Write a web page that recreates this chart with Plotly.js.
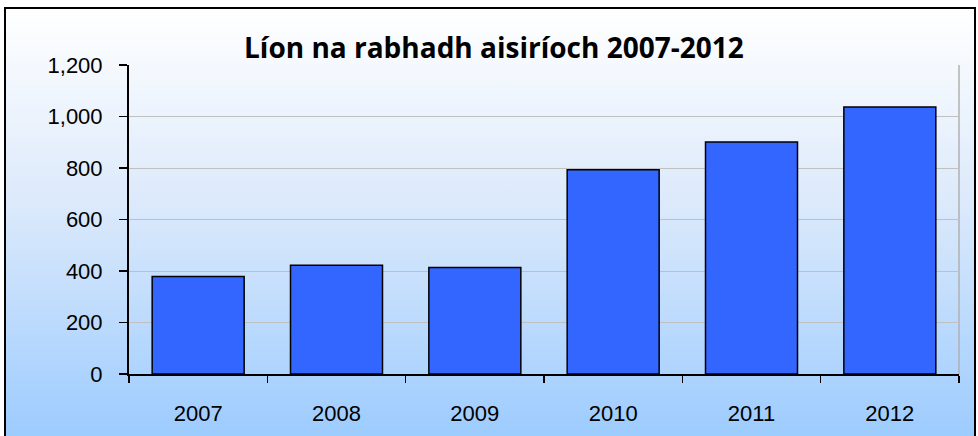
<!DOCTYPE html>
<html>
<head>
<meta charset="utf-8">
<script src="https://cdn.plot.ly/plotly-3.0.1.min.js"></script>
<style>
  html, body { margin: 0; padding: 0; background: #ffffff; }
  #wrap { position: relative; width: 978px; height: 436px; overflow: hidden; background: #ffffff; }
  #bg { position: absolute; left: 4px; top: 7px; width: 968px; height: 440px;
        border: 2px solid #000000;
        background: linear-gradient(to bottom, #ffffff 0%, #dbe9fb 45%, #99caff 100%); }
  #chart { position: absolute; left: 0; top: 0; width: 978px; height: 436px; }
</style>
</head>
<body>
<div id="wrap">
  <div id="bg"></div>
  <div id="chart"></div>
</div>
<script>
const years = ["2007", "2008", "2009", "2010", "2011", "2012"];
const warnings = [379, 422, 414, 793, 901, 1037];
const yTicks = [0, 200, 400, 600, 800, 1000, 1200];
const chartTitle = "Líon na rabhadh aisiríoch 2007-2012";

const trace = {
  type: "bar",
  x: years,
  y: warnings,
  marker: { color: "#3366FF", line: { color: "#000000", width: 1.5 } },
  hoverinfo: "x+y"
};

const layout = {
  width: 978,
  height: 436,
  margin: { l: 129, r: 19, t: 65, b: 62 },
  paper_bgcolor: "rgba(0,0,0,0)",
  plot_bgcolor: "rgba(0,0,0,0)",
  showlegend: false,
  bargap: 0.335,
  font: { family: "Liberation Sans, Arial, sans-serif", color: "#000000" },
  title: {
    text: "<b>" + chartTitle + "</b>",
    font: { family: "Liberation Sans Narrow, Open Sans, sans-serif", size: 28, color: "#000000" },
    x: 0.505, xanchor: "center",
    y: 0.89, yanchor: "middle", yref: "container"
  },
  xaxis: {
    type: "category",
    tickson: "boundaries",
    ticks: "outside",
    ticklen: 7,
    tickwidth: 1.5,
    tickcolor: "#000000",
    showline: true,
    linecolor: "#000000",
    linewidth: 2,
    showgrid: false,
    tickfont: { size: 22, family: "Liberation Sans, Arial, sans-serif" },
    ticklabelstandoff: 19
  },
  yaxis: {
    range: [0, 1200],
    tickvals: yTicks,
    tickformat: ",d",
    ticks: "outside",
    ticklen: 8,
    tickwidth: 1.5,
    tickcolor: "#000000",
    showline: true,
    linecolor: "#000000",
    linewidth: 2,
    showgrid: true,
    gridcolor: "#C0C0C0",
    gridwidth: 1,
    zeroline: false,
    tickfont: { size: 22, family: "Liberation Sans, Arial, sans-serif" },
    ticklabelstandoff: 12
  },
  shapes: [
    { type: "line", xref: "paper", yref: "paper", x0: 1, x1: 1, y0: 0, y1: 1,
      line: { color: "#B0B0B0", width: 1.5 }, layer: "below" }
  ]
};

Plotly.newPlot("chart", [trace], layout, { displayModeBar: false, staticPlot: true });
</script>
</body>
</html>
